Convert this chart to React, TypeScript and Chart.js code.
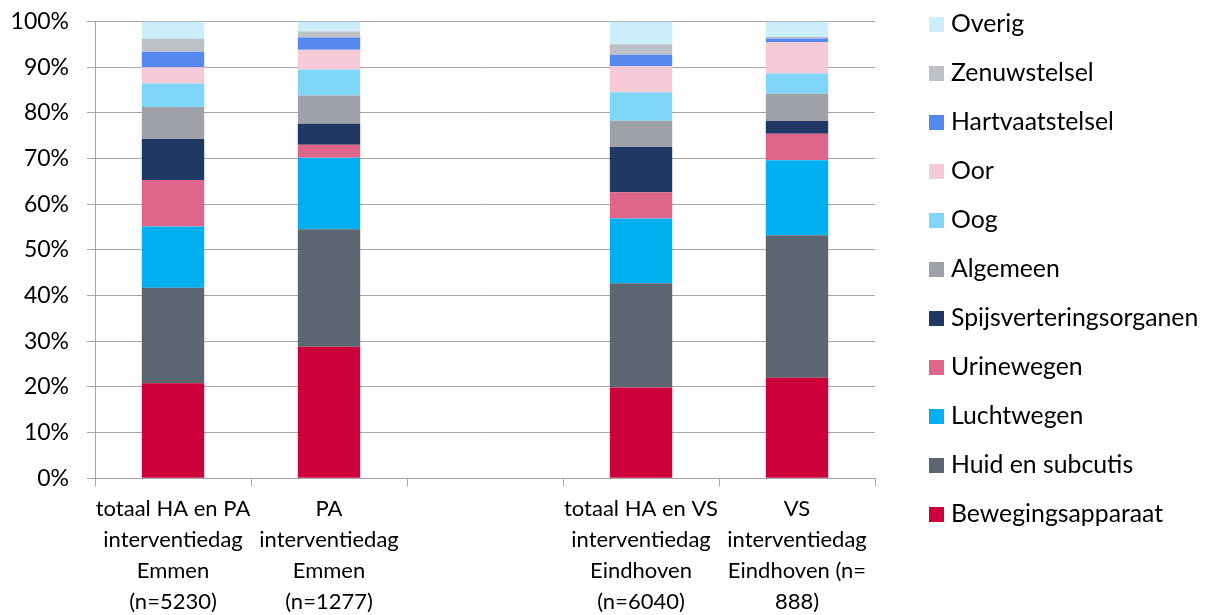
import React, { useEffect, useRef } from "react";
import { Chart, registerables } from "chart.js";

Chart.register(...registerables);

const categories: (string | string[])[] = [
  ["totaal HA en PA", "interventiedag", "Emmen", "(n=5230)"],
  ["PA", "interventiedag", "Emmen", "(n=1277)"],
  "",
  ["totaal HA en VS", "interventiedag", "Eindhoven", "(n=6040)"],
  ["VS", "interventiedag", "Eindhoven (n=", "888)"],
];

const bewegingsapparaat = [20.8, 28.8, null, 19.9, 22.0];
const huidEnSubcutis = [20.9, 25.7, null, 22.8, 31.2];
const luchtwegen = [13.4, 15.7, null, 14.2, 16.4];
const urinewegen = [10.2, 2.8, null, 5.7, 5.8];
const spijsverteringsorganen = [9.0, 4.6, null, 9.9, 2.8];
const algemeen = [7.0, 6.2, null, 5.8, 6.0];
const oog = [5.1, 5.7, null, 6.2, 4.4];
const oor = [3.6, 4.3, null, 5.7, 6.9];
const hartvaatstelsel = [3.4, 2.7, null, 2.5, 0.8];
const zenuwstelsel = [2.8, 1.3, null, 2.3, 0.3];
const overig = [3.8, 2.2, null, 5.0, 3.4];

const yTicks = [0, 10, 20, 30, 40, 50, 60, 70, 80, 90, 100];

const series = [
  { label: "Bewegingsapparaat", data: bewegingsapparaat, color: "#CC003A" },
  { label: "Huid en subcutis", data: huidEnSubcutis, color: "#5C6670" },
  { label: "Luchtwegen", data: luchtwegen, color: "#00B0F0" },
  { label: "Urinewegen", data: urinewegen, color: "#E0658A" },
  { label: "Spijsverteringsorganen", data: spijsverteringsorganen, color: "#1F3864" },
  { label: "Algemeen", data: algemeen, color: "#9EA2A8" },
  { label: "Oog", data: oog, color: "#80D6F8" },
  { label: "Oor", data: oor, color: "#F4CAD6" },
  { label: "Hartvaatstelsel", data: hartvaatstelsel, color: "#5589F0" },
  { label: "Zenuwstelsel", data: zenuwstelsel, color: "#BDC0C4" },
  { label: "Overig", data: overig, color: "#CCEEFA" },
];

const FONT = "Lato, 'Open Sans', sans-serif";
const GRID = "#A6A6A6";

const sideLegend = {
  id: "sideLegend",
  afterDraw(chart: any) {
    const { ctx, chartArea } = chart;
    const ds = chart.data.datasets;
    ctx.save();
    ctx.font = `24.8px ${FONT}`;
    ctx.textBaseline = "middle";
    ctx.textAlign = "left";
    const boxX = chartArea.right + 54;
    const startY = 24.5;
    const step = 49;
    for (let i = 0; i < ds.length; i++) {
      const d = ds[ds.length - 1 - i];
      const cy = startY + i * step;
      ctx.fillStyle = d.backgroundColor;
      ctx.fillRect(boxX, cy - 7.5, 15, 15);
      ctx.fillStyle = "#000000";
      ctx.fillText(d.label, boxX + 22, cy);
    }
    ctx.restore();
  },
};

export default function App() {
  const ref = useRef<HTMLCanvasElement | null>(null);

  useEffect(() => {
    if (!ref.current) return;
    const chart = new Chart(ref.current, {
      type: "bar",
      data: {
        labels: categories,
        datasets: series.map((s) => ({
          label: s.label,
          data: s.data,
          backgroundColor: s.color,
          borderWidth: 0,
          barPercentage: 0.4,
          categoryPercentage: 1,
        })),
      },
      options: {
        responsive: false,
        animation: false,
        layout: { padding: { top: 21.5, right: 334, left: 0, bottom: 0 } },
        plugins: {
          legend: { display: false },
          tooltip: { enabled: false },
        },
        scales: {
          x: {
            stacked: true,
            grid: {
              offset: true,
              drawOnChartArea: false,
              drawTicks: true,
              tickLength: 8,
              color: GRID,
            },
            border: { display: true, color: GRID },
            ticks: {
              autoSkip: false,
              maxRotation: 0,
              minRotation: 0,
              padding: 7,
              color: "#000000",
              font: { family: FONT, size: 22, lineHeight: 31 / 22 },
            },
            afterFit(scale: any) {
              scale.height = 615 - 478.3;
              scale.paddingLeft = 0;
              scale.paddingRight = 0;
            },
          },
          y: {
            stacked: true,
            min: 0,
            max: 100,
            afterBuildTicks(scale: any) {
              scale.ticks = yTicks.map((v) => ({ value: v }));
            },
            grid: { color: GRID, tickLength: 8, drawTicks: true },
            border: { display: true, color: GRID },
            ticks: {
              padding: 18,
              color: "#000000",
              font: { family: FONT, size: 23 },
              callback: (v: any) => `${v}%`,
            },
            afterFit(scale: any) {
              scale.width = 95;
              scale.paddingTop = 0;
              scale.paddingBottom = 0;
            },
          },
        },
      },
      plugins: [sideLegend],
    });
    return () => chart.destroy();
  }, []);

  return (
    <div style={{ position: "fixed", left: 0, top: 0, width: 1209, height: 615, background: "#ffffff" }}>
      <canvas ref={ref} width={1209} height={615} style={{ display: "block" }} />
    </div>
  );
}
